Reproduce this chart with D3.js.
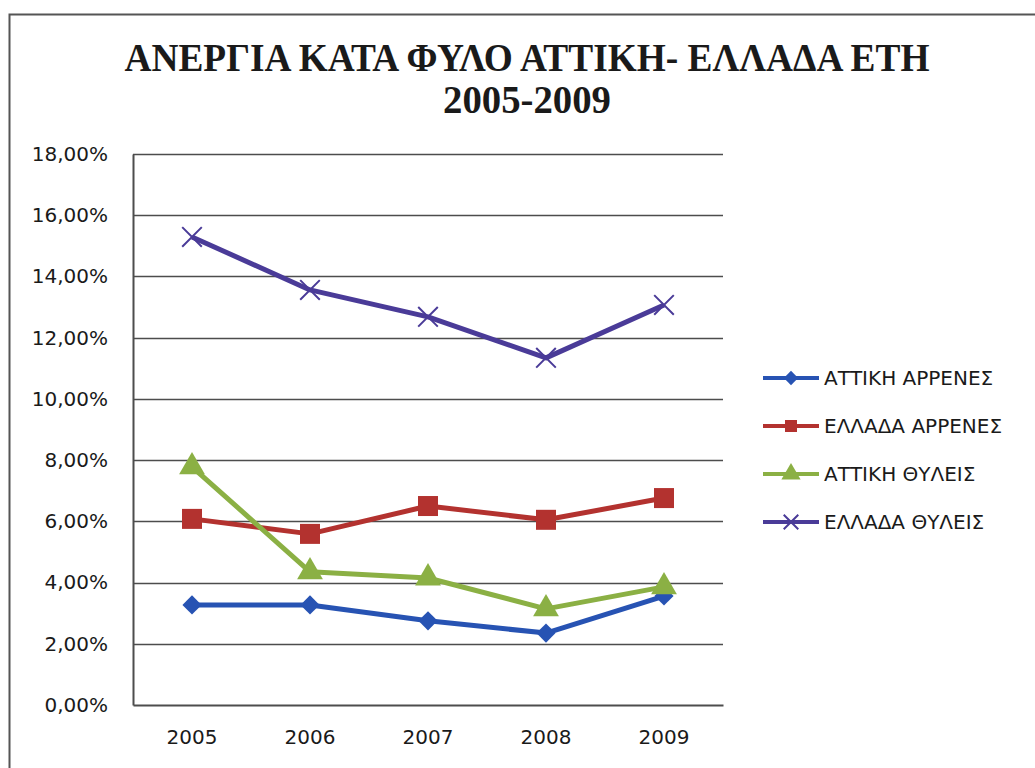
<!DOCTYPE html>
<html>
<head>
<meta charset="utf-8">
<script src="https://cdn.jsdelivr.net/npm/d3@7"></script>
<style>
  body { margin: 0; background: #fff; }
</style>
</head>
<body>
<script>
'use strict';

var width = 1035,
    height = 768;

// data
var years = ["2005", "2006", "2007", "2008", "2009"];
var seriesNames = ["ΑΤΤΙΚΗ ΑΡΡΕΝΕΣ", "ΕΛΛΑΔΑ ΑΡΡΕΝΕΣ", "ΑΤΤΙΚΗ ΘΥΛΕΙΣ", "ΕΛΛΑΔΑ ΘΥΛΕΙΣ"];
var attikiMales   = [3.27, 3.27, 2.75, 2.35, 3.56];
var elladaMales   = [6.08, 5.59, 6.50, 6.05, 6.76];
var attikiFemales = [7.78, 4.35, 4.15, 3.14, 3.86];
var elladaFemales = [15.29, 13.56, 12.68, 11.34, 13.07];
var yTicks = [0, 2, 4, 6, 8, 10, 12, 14, 16, 18];

var seriesColors = ["#2753b3", "#b3322f", "#8bb044", "#4a3b98"];
var seriesShapes = ["diamond", "square", "triangle", "cross"];
var series = [attikiMales, elladaMales, attikiFemales, elladaFemales];

var margin = {left: 133, top: 154, right: 312, bottom: 63};
var labelFont = "'DejaVu Sans', 'Noto Sans', sans-serif";

var svg = d3.select("body").append("svg")
    .attr("width", width)
    .attr("height", height);

// outer frame (left + top only, like the scan)
svg.append("path")
    .attr("d", "M9.5," + height + "V14.5H" + width)
    .attr("fill", "none")
    .attr("stroke", "#555")
    .attr("stroke-width", 2);

// title
var title = svg.append("g")
    .style("font-family", "'Liberation Serif', 'DejaVu Serif', serif")
    .style("font-weight", "bold")
    .style("fill", "#1a1a1a");
title.append("text")
    .attr("x", 527).attr("y", 71)
    .attr("text-anchor", "middle")
    .style("font-size", "40px")
    .attr("textLength", 805)
    .attr("lengthAdjust", "spacingAndGlyphs")
    .text("ΑΝΕΡΓΙΑ ΚΑΤΑ ΦΥΛΟ ΑΤΤΙΚΗ- ΕΛΛΑΔΑ ΕΤΗ");
title.append("text")
    .attr("x", 527).attr("y", 113)
    .attr("text-anchor", "middle")
    .style("font-size", "40px")
    .attr("textLength", 168)
    .attr("lengthAdjust", "spacingAndGlyphs")
    .text("2005-2009");

var x = d3.scaleBand()
    .domain(years)
    .range([margin.left, width - margin.right]);

var y = d3.scaleLinear()
    .domain([0, 18])
    .range([height - margin.bottom, margin.top]);

// gridlines
svg.append("g")
    .selectAll("line")
    .data(yTicks.slice(1))
    .enter().append("line")
        .attr("x1", margin.left)
        .attr("x2", width - margin.right)
        .attr("y1", function(d) { return Math.round(y(d)) + 0.5; })
        .attr("y2", function(d) { return Math.round(y(d)) + 0.5; })
        .attr("stroke", "#4d4d4d")
        .attr("stroke-width", 1.6);

// axes
var fmt = function(d) { return d.toFixed(2).replace(".", ",") + "%"; };

var yAxis = svg.append("g")
    .attr("transform", "translate(" + margin.left + ",0)")
    .call(d3.axisLeft(y).tickValues(yTicks).tickFormat(fmt).tickSize(0).tickPadding(25));
yAxis.select(".domain").attr("stroke", "#4d4d4d").attr("stroke-width", 2);

var xAxis = svg.append("g")
    .attr("transform", "translate(0," + (height - margin.bottom) + ")")
    .call(d3.axisBottom(x).tickSize(0).tickPadding(25));
xAxis.select(".domain").attr("stroke", "#4d4d4d").attr("stroke-width", 2);

svg.selectAll(".tick text")
    .style("font-family", labelFont)
    .style("font-size", "20px")
    .style("fill", "#1a1a1a");

// lines
var line = d3.line()
    .x(function(d, i) { return x(years[i]) + x.bandwidth() / 2; })
    .y(function(d) { return y(d); });

function marker(sel, shape, color, s) {
  if (shape === "diamond") {
    sel.append("path")
        .attr("d", d3.symbol().type(d3.symbolDiamond2).size(s * 13)())
        .attr("fill", color);
  } else if (shape === "square") {
    sel.append("rect")
        .attr("x", -s / 2 - 1).attr("y", -s / 2 - 1)
        .attr("width", s + 2).attr("height", s + 2)
        .attr("fill", color);
  } else if (shape === "triangle") {
    sel.append("path")
        .attr("d", d3.symbol().type(d3.symbolTriangle).size(s * 16)())
        .attr("fill", color);
  } else {
    sel.append("path")
        .attr("d", d3.symbol().type(d3.symbolX).size(s * 14)())
        .attr("fill", "none")
        .attr("stroke", color)
        .attr("stroke-width", 2);
  }
}

series.forEach(function(vals, k) {
  var g = svg.append("g");
  g.append("path")
      .datum(vals)
      .attr("d", line)
      .attr("fill", "none")
      .attr("stroke", seriesColors[k])
      .attr("stroke-width", 5)
      .attr("stroke-linejoin", "round");
  g.selectAll(".pt")
      .data(vals)
      .enter().append("g")
        .attr("class", "pt")
        .attr("transform", function(d, i) {
          return "translate(" + (x(years[i]) + x.bandwidth() / 2) + "," + y(d) + ")";
        })
        .each(function() { marker(d3.select(this), seriesShapes[k], seriesColors[k], 18); });
});

// legend
var legend = svg.append("g")
    .selectAll("g")
    .data(seriesNames)
    .enter().append("g")
        .attr("transform", function(d, i) { return "translate(763," + (378 + i * 48) + ")"; });

legend.append("line")
    .attr("x1", 0).attr("x2", 56)
    .attr("stroke", function(d, i) { return seriesColors[i]; })
    .attr("stroke-width", 4);
legend.append("g")
    .attr("transform", "translate(28,0)")
    .each(function(d, i) { marker(d3.select(this), seriesShapes[i], seriesColors[i], 10); });
legend.append("text")
    .attr("x", 61)
    .attr("dy", "0.36em")
    .style("font-family", labelFont)
    .style("font-size", "20px")
    .style("fill", "#1a1a1a")
    .text(function(d) { return d; });
</script>
</body>
</html>
